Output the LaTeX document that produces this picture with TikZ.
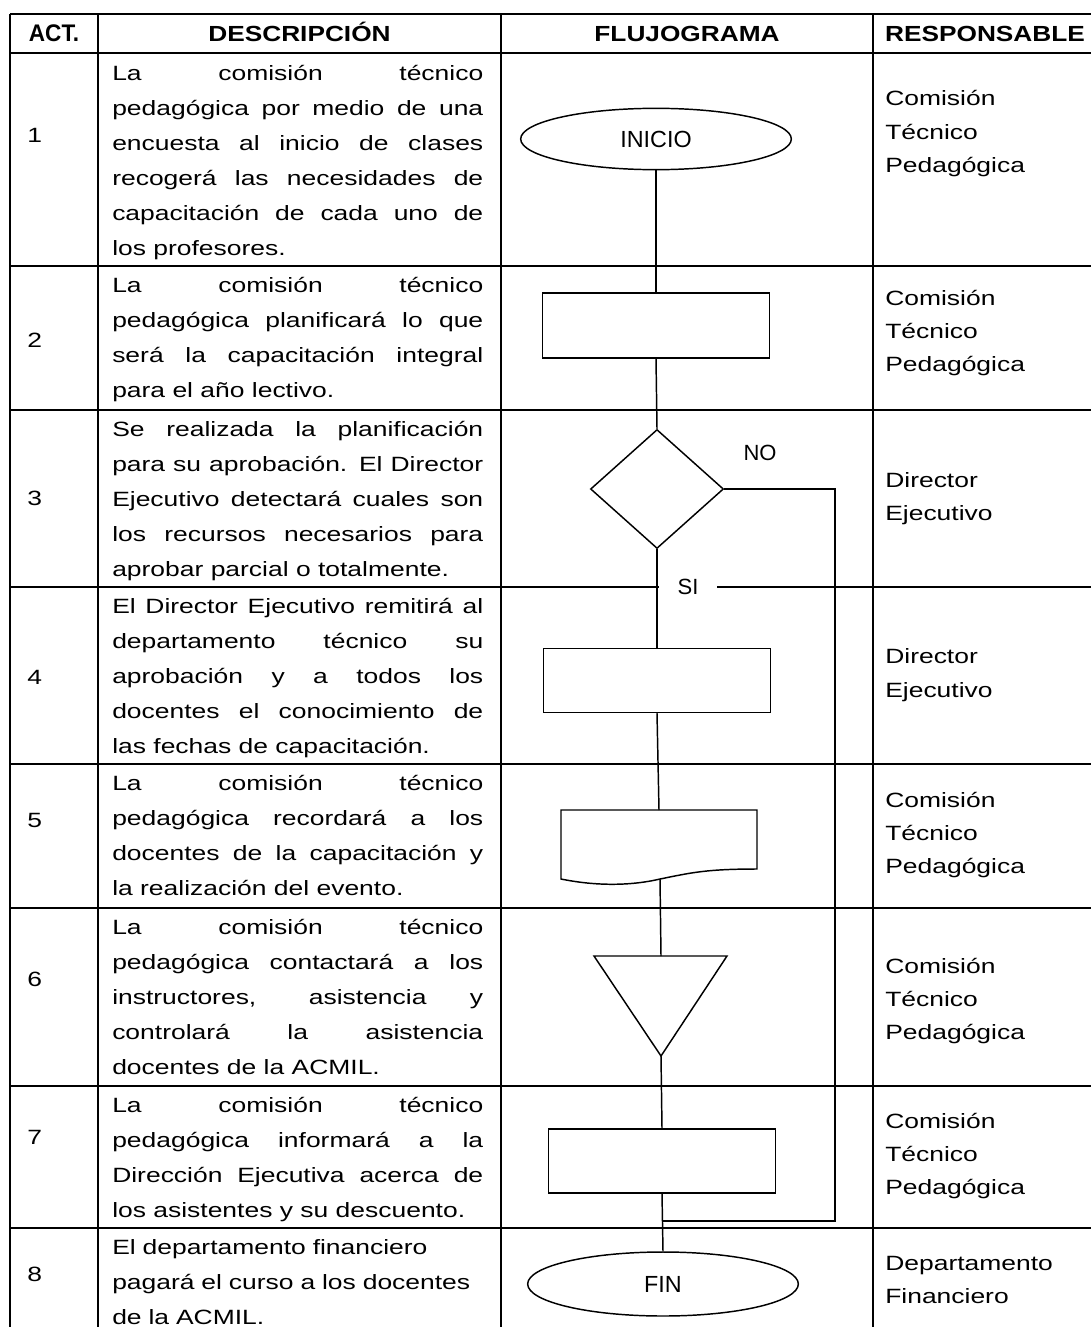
\documentclass[tikz,border=0pt]{standalone}
\usepackage{fontspec}
\setmainfont{Liberation Sans}
\newfontfamily\txtfont[FakeStretch=1.28]{Liberation Sans}
\newfontfamily\hdfont[FakeStretch=1.2]{Liberation Sans}
\newfontfamily\actfont[FakeStretch=0.94]{Liberation Sans}
\usetikzlibrary{shapes.geometric}
\newcommand{\desctext}{\txtfont\fontsize{15.5}{26.25}\selectfont\tolerance=10000\hbadness=10000\relax}
\newcommand{\resptext}{\txtfont\fontsize{15.5}{25.1}\selectfont}
\newcommand{\firstln}{\rule{0pt}{19.5pt}}
\tikzset{
  tabline/.style={line width=1.5pt},
  flow/.style={line width=1.1pt},
  term/.style={draw, ellipse, line width=1.1pt, minimum width=203pt, minimum height=46pt,
               inner sep=0pt, font=\fontsize{17.5}{20}\selectfont},
  proc/.style={draw, rectangle, line width=1.1pt, minimum width=170pt, minimum height=48pt, inner sep=0pt},
  dec/.style={draw, diamond, line width=1.1pt, minimum width=99.75pt, minimum height=89.25pt, inner sep=0pt},
  desc/.style={anchor=north west, inner sep=0pt, text width=278.25pt, align=justify, font=\desctext},
  resp/.style={anchor=west, inner sep=0pt, align=left, font=\resptext},
  num/.style={anchor=west, inner sep=0pt, font=\desctext},
  head/.style={anchor=base, inner sep=0pt, font=\hdfont\bfseries\fontsize{16.4}{18}\selectfont},
  lbl/.style={inner sep=0pt, font=\fontsize{16.5}{18}\selectfont},
}

\begin{document}
\begin{tikzpicture}[x=0.75pt, y=-0.75pt]
  \useasboundingbox (0,0) rectangle (1091,1327);
  % table
  \draw[tabline] (10,14) -- (1091,14);
  \draw[tabline] (10,53) -- (1091,53);
  \draw[tabline] (10,266) -- (1091,266);
  \draw[tabline] (10,410) -- (1091,410);
  \draw[tabline] (10,587) -- (1091,587);
  \draw[tabline] (10,764) -- (1091,764);
  \draw[tabline] (10,908) -- (1091,908);
  \draw[tabline] (10,1086) -- (1091,1086);
  \draw[tabline] (10,1228) -- (1091,1228);
  \draw[tabline] (10,14) -- (10,1327);
  \draw[tabline] (98,14) -- (98,1327);
  \draw[tabline] (501,14) -- (501,1327);
  \draw[tabline] (873,14) -- (873,1327);

  \node[head, font=\actfont\bfseries\fontsize{18}{20}\selectfont] (hact) at (54,42) {ACT.};
  \node[head] (hdesc) at (299.5,42) {DESCRIPCIÓN};
  \node[head] (hflow) at (687,42) {FLUJOGRAMA};
  \node[head] (hresp) at (985,42) {RESPONSABLE};

  % numbers
  \node[num] (n1) at (27,135) {1};
  \node[num] (n2) at (27,340) {2};
  \node[num] (n3) at (27,498) {3};
  \node[num] (n4) at (27,677) {4};
  \node[num] (n5) at (27,820) {5};
  \node[num] (n6) at (27,979) {6};
  \node[num] (n7) at (27,1137) {7};
  \node[num] (n8) at (27,1274) {8};

  % descriptions
  \node[desc] (d1) at (112,54.7) {\firstln La comisión técnico\linebreak pedagógica por medio de una\linebreak encuesta al inicio de clases\linebreak recogerá las necesidades de\linebreak capacitación de cada uno de\linebreak los profesores.};
  \node[desc] (d2) at (112,266) {\firstln La comisión técnico\linebreak pedagógica planificará lo que\linebreak será la capacitación integral\linebreak para el año lectivo.};
  \node[desc] (d3) at (112,410) {\firstln Se realizada la planificación\linebreak para su aprobación. El Director\linebreak Ejecutivo detectará cuales son\linebreak los recursos necesarios para\linebreak aprobar parcial o totalmente.};
  \node[desc] (d4) at (112,587) {\firstln El Director Ejecutivo remitirá al\linebreak departamento técnico su\linebreak aprobación y a todos los\linebreak docentes el conocimiento de\linebreak las fechas de capacitación.};
  \node[desc] (d5) at (112,764) {\firstln La comisión técnico\linebreak pedagógica recordará a los\linebreak docentes de la capacitación y\linebreak la realización del evento.};
  \node[desc] (d6) at (112,908) {\firstln La comisión técnico\linebreak pedagógica contactará a los\linebreak instructores, asistencia y\linebreak controlará la asistencia\linebreak docentes de la ACMIL.};
  \node[desc] (d7) at (112,1086) {\firstln La comisión técnico\linebreak pedagógica informará a la\linebreak Dirección Ejecutiva acerca de\linebreak los asistentes y su descuento.};
  \node[desc, align=left] (d8) at (112,1228) {\firstln El departamento financiero\\ pagará el curso a los docentes\\ de la ACMIL.};

  % responsables
  \node[resp] (r1) at (885,134) {Comisión\\ Técnico\\ Pedagógica};
  \node[resp] (r2) at (885,333) {Comisión\\ Técnico\\ Pedagógica};
  \node[resp] (r3) at (885,498.5) {Director\\ Ejecutivo};
  \node[resp] (r4) at (885,675) {Director\\ Ejecutivo};
  \node[resp] (r5) at (885,835) {Comisión\\ Técnico\\ Pedagógica};
  \node[resp] (r6) at (885,1001) {Comisión\\ Técnico\\ Pedagógica};
  \node[resp] (r7) at (885,1156) {Comisión\\ Técnico\\ Pedagógica};
  \node[resp] (r8) at (885,1280) {Departamento\\ Financiero};

  % flujograma
  \node[term] (inicio) at (656,139) {INICIO};
  \node[proc, minimum height=48.75pt] (plan) at (656,325.5) {};
  \node[dec] (check) at (657,489) {};
  \node[proc] (remit) at (657,680.5) {};
  \draw[flow] (561,810) -- (757,810) -- (757,869)
    .. controls (705,869) and (690,873) .. (660,879)
    .. controls (635,885) and (600,887) .. (561,879) -- cycle;
  \coordinate (docTop) at (659,810);
  \coordinate (docBot) at (660,879);
  \draw[flow] (594,956) -- (727,956) -- (661,1056) -- cycle;
  \coordinate (triTop) at (661,956);
  \coordinate (triApex) at (661,1056);
  \node[proc] (report) at (662,1161) {};
  \node[term, minimum height=48pt] (fin) at (663,1284) {FIN};
  \coordinate (noTurn) at (835,1221);
  \coordinate (noJoin) at (662,1221);

  \draw[flow] (inicio.south) -- (plan.north);
  \draw[flow] (plan.south) -- (check.north);
  \draw[flow] (check.south) -- (remit.north);
  \draw[flow] (remit.south) -- (docTop);
  \draw[flow] (docBot) -- (triTop);
  \draw[flow] (triApex) -- (report.north);
  \draw[flow] (report.south) -- (fin.north);
  \draw[flow] (check.east) -| (noTurn) -- (noJoin);
  \node[lbl] (no) at (760,453) {NO};
  \node[lbl, fill=white, inner xsep=14pt, inner ysep=1pt] (si) at (688,587) {SI};
\end{tikzpicture}
\end{document}
